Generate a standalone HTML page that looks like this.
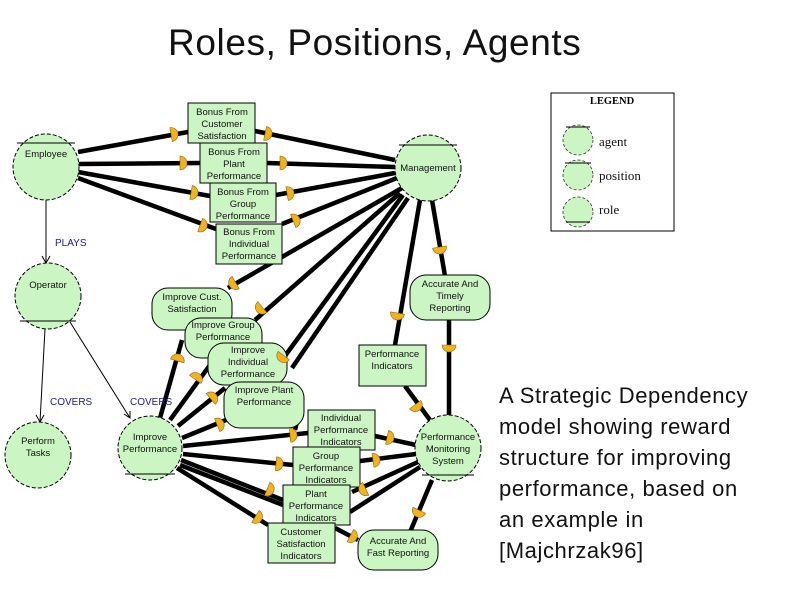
<!DOCTYPE html>
<html><head><meta charset="utf-8"><style>
body{margin:0;background:#fff;width:792px;height:612px;overflow:hidden;position:relative;font-family:"Liberation Sans",sans-serif}
.t{position:absolute;left:168px;top:22px;font-size:37px;letter-spacing:0.6px;color:#111}
.d{position:absolute;left:499px;top:380px;font-size:22px;letter-spacing:0.6px;line-height:31px;color:#111}
svg{position:absolute;left:0;top:0}
</style></head><body>
<div class="t">Roles, Positions, Agents</div>
<div class="d">A Strategic Dependency<br>model showing reward<br>structure for improving<br>performance, based on<br>an example in<br>[Majchrzak96]</div>
<svg width="792" height="612" viewBox="0 0 792 612" font-family="Liberation Sans, sans-serif">
<defs><path id="m" d="M-3,-7 A7,7 0 0,1 -3,7 Z" fill="#f2b21c" stroke="#8a6a10" stroke-width="0.6"/></defs>
<g stroke="#000" stroke-width="4.5" fill="none">
<line x1="78" y1="152" x2="188" y2="132"/><line x1="255" y1="131" x2="395" y2="160"/>
<line x1="78" y1="164" x2="200" y2="163"/><line x1="267" y1="163" x2="395" y2="167"/>
<line x1="78" y1="172" x2="210" y2="196"/><line x1="276" y1="195" x2="395" y2="173"/>
<line x1="78" y1="178" x2="216" y2="229"/><line x1="282" y1="224" x2="397" y2="178"/>
<line x1="402" y1="188" x2="228" y2="288"/><line x1="400" y1="193" x2="255" y2="320"/>
<line x1="403" y1="195" x2="282" y2="360"/><line x1="408" y1="198" x2="292" y2="368"/>
<line x1="432" y1="200" x2="445" y2="276"/><line x1="420" y1="200" x2="395" y2="345"/>
<line x1="405" y1="386" x2="430" y2="420"/><line x1="449" y1="320" x2="449" y2="415"/>
<line x1="160" y1="418" x2="182" y2="340"/><line x1="170" y1="420" x2="210" y2="365"/>
<line x1="178" y1="426" x2="225" y2="388"/><line x1="182" y1="438" x2="226" y2="420"/>
<line x1="183" y1="446" x2="308" y2="433"/><line x1="183" y1="454" x2="293" y2="465"/>
<line x1="181" y1="460" x2="283" y2="500"/><line x1="180" y1="465" x2="283" y2="505"/>
<line x1="177" y1="468" x2="268" y2="525"/>
<line x1="375" y1="436" x2="416" y2="445"/><line x1="360" y1="461" x2="416" y2="454"/>
<line x1="352" y1="492" x2="418" y2="462"/><line x1="350" y1="512" x2="420" y2="467"/>
<line x1="432" y1="480" x2="410" y2="532"/><line x1="335" y1="528" x2="358" y2="540"/>
<line x1="295" y1="430" x2="300" y2="410"/>
</g>
<g stroke="#000" stroke-width="1" fill="none">
<line x1="46" y1="200" x2="46" y2="263"/><path d="M42,256 L46,263 L50,256"/>
<line x1="45" y1="329" x2="40" y2="422"/><path d="M36,415 L40,422 L44,415"/>
<line x1="70" y1="322" x2="130" y2="418"/><path d="M124,414 L130,418 L130,411"/>
</g>
<g font-size="10" fill="#1a1a8a"><text x="55" y="246">PLAYS</text><text x="50" y="405">COVERS</text><text x="130" y="405">COVERS</text></g>
<g fill="#ccf5c4" stroke="#000" stroke-width="1" stroke-dasharray="4,2">
<circle cx="46" cy="167" r="33"/><circle cx="428" cy="168" r="33"/><circle cx="48" cy="296" r="33"/>
<circle cx="38" cy="455" r="33"/><circle cx="150" cy="448" r="32"/><circle cx="448" cy="448" r="33"/>
</g>
<g stroke="#000" stroke-width="1">
<line x1="17" y1="143" x2="75" y2="143"/><line x1="399" y1="145" x2="457" y2="145"/>
<line x1="20" y1="321" x2="76" y2="321"/><line x1="125" y1="474" x2="175" y2="474"/><line x1="422" y1="475" x2="474" y2="475"/>
</g>
<g fill="#ccf5c4" stroke="#000" stroke-width="1">
<rect x="188" y="103" width="67" height="40"/><rect x="200" y="143" width="67" height="40"/>
<rect x="210" y="183" width="66" height="39"/><rect x="216" y="224" width="66" height="40"/>
<rect x="359" y="345" width="67" height="41"/><rect x="308" y="410" width="67" height="40"/>
<rect x="293" y="447" width="67" height="40"/><rect x="283" y="485" width="67" height="40"/>
<rect x="268" y="523" width="67" height="40"/>
<rect x="152" y="288" width="80" height="42" rx="16"/><rect x="185" y="318" width="77" height="40" rx="16"/>
<rect x="208" y="343" width="79" height="42" rx="16"/><rect x="224" y="382" width="80" height="46" rx="16"/>
<rect x="410" y="275" width="80" height="45" rx="16"/><rect x="358" y="530" width="80" height="40" rx="16"/>
</g>
<g font-size="9.5" text-anchor="middle" fill="#111">
<text x="46" y="157">Employee</text><text x="428" y="171">Management</text><text x="48" y="288">Operator</text>
<text x="38" y="444">Perform</text><text x="38" y="456">Tasks</text>
<text x="150" y="440">Improve</text><text x="150" y="452">Performance</text>
<text x="448" y="440">Performance</text><text x="448" y="452">Monitoring</text><text x="448" y="464">System</text>
<text x="222" y="115">Bonus From</text><text x="222" y="127">Customer</text><text x="222" y="139">Satisfaction</text>
<text x="234" y="155">Bonus From</text><text x="234" y="167">Plant</text><text x="234" y="179">Performance</text>
<text x="243" y="195">Bonus From</text><text x="243" y="207">Group</text><text x="243" y="219">Performance</text>
<text x="249" y="235">Bonus From</text><text x="249" y="247">Individual</text><text x="249" y="259">Performance</text>
<text x="392" y="357">Performance</text><text x="392" y="369">Indicators</text>
<text x="341" y="421">Individual</text><text x="341" y="433">Performance</text><text x="341" y="445">Indicators</text>
<text x="326" y="459">Group</text><text x="326" y="471">Performance</text><text x="326" y="483">Indicators</text>
<text x="316" y="497">Plant</text><text x="316" y="509">Performance</text><text x="316" y="521">Indicators</text>
<text x="301" y="535">Customer</text><text x="301" y="547">Satisfaction</text><text x="301" y="559">Indicators</text>
<text x="192" y="300">Improve Cust.</text><text x="192" y="312">Satisfaction</text>
<text x="223" y="328">Improve Group</text><text x="223" y="340">Performance</text>
<text x="248" y="353">Improve</text><text x="248" y="365">Individual</text><text x="248" y="377">Performance</text>
<text x="264" y="393">Improve Plant</text><text x="264" y="405">Performance</text>
<text x="450" y="287">Accurate And</text><text x="450" y="299">Timely</text><text x="450" y="311">Reporting</text>
<text x="398" y="544">Accurate And</text><text x="398" y="556">Fast Reporting</text>
</g>
<g>
<use href="#m" transform="translate(174,134) rotate(-10)"/><use href="#m" transform="translate(268,134) rotate(12)"/>
<use href="#m" transform="translate(183,163)"/><use href="#m" transform="translate(283,163)"/>
<use href="#m" transform="translate(194,193) rotate(10)"/><use href="#m" transform="translate(290,193) rotate(-10)"/>
<use href="#m" transform="translate(203,226) rotate(20)"/><use href="#m" transform="translate(296,220) rotate(-22)"/>
<use href="#m" transform="translate(233,284) rotate(150)"/><use href="#m" transform="translate(260,309) rotate(140)"/>
<use href="#m" transform="translate(282,358) rotate(127)"/><use href="#m" transform="translate(440,250) rotate(80)"/>
<use href="#m" transform="translate(397,316) rotate(100)"/><use href="#m" transform="translate(417,407) rotate(53)"/>
<use href="#m" transform="translate(449,348) rotate(90)"/>
<use href="#m" transform="translate(178,358) rotate(-75)"/><use href="#m" transform="translate(197,377) rotate(-55)"/>
<use href="#m" transform="translate(213,397) rotate(-40)"/><use href="#m" transform="translate(220,424) rotate(-22)"/>
<use href="#m" transform="translate(293,435) rotate(-5)"/><use href="#m" transform="translate(279,464) rotate(5)"/>
<use href="#m" transform="translate(270,490) rotate(22)"/><use href="#m" transform="translate(258,518) rotate(32)"/>
<use href="#m" transform="translate(390,438) rotate(12)"/><use href="#m" transform="translate(376,460) rotate(-8)"/>
<use href="#m" transform="translate(363,490) rotate(155)"/><use href="#m" transform="translate(418,513) rotate(115)"/>
<use href="#m" transform="translate(353,537) rotate(28)"/>
</g>
<rect x="551" y="93" width="123" height="138" fill="#fff" stroke="#000" stroke-width="1"/>
<text x="612" y="104" text-anchor="middle" font-family="Liberation Serif, serif" font-weight="bold" font-size="10.5">LEGEND</text>
<g fill="#ccf5c4" stroke="#333" stroke-width="0.8" stroke-dasharray="3,2">
<circle cx="578" cy="140" r="15"/><circle cx="578" cy="175" r="15"/><circle cx="578" cy="212" r="15"/></g>
<g stroke="#000"><line x1="566" y1="127" x2="590" y2="127"/><line x1="565" y1="163" x2="591" y2="163"/><line x1="566" y1="222" x2="590" y2="222"/></g>
<g font-family="Liberation Serif, serif" font-size="13" fill="#111"><text x="599" y="146">agent</text><text x="599" y="180">position</text><text x="599" y="214">role</text></g>
</svg>
</body></html>
